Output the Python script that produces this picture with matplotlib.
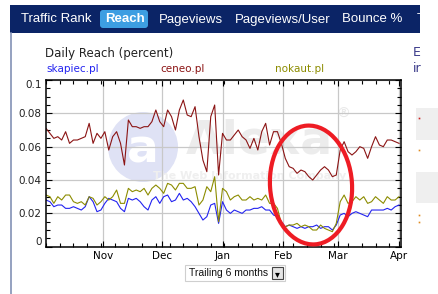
#!/usr/bin/env python3
"""Alexa style daily reach chart: skapiec.pl vs ceneo.pl vs nokaut.pl."""

import matplotlib
matplotlib.use("Agg")
import matplotlib.dates as mdates
import matplotlib.pyplot as plt
import numpy as np
import pandas as pd
from matplotlib.patches import Circle, Ellipse, FancyBboxPatch, Rectangle

# every second day, 3 Oct 2009 .. 1 Apr 2010
dates = pd.date_range("2009-10-03", "2010-04-01", freq="2D")

ceneo = [
    0.071, 0.068, 0.065, 0.066, 0.064, 0.069, 0.062, 0.064, 0.064, 0.065,
    0.066, 0.074, 0.062, 0.068, 0.065, 0.069, 0.058, 0.066, 0.069, 0.062,
    0.049, 0.076, 0.072, 0.072, 0.071, 0.072, 0.072, 0.075, 0.082, 0.075,
    0.072, 0.082, 0.078, 0.070, 0.082, 0.088, 0.079, 0.078, 0.084, 0.066,
    0.052, 0.045, 0.078, 0.085, 0.043, 0.068, 0.064, 0.064, 0.067, 0.070,
    0.066, 0.064, 0.059, 0.065, 0.058, 0.069, 0.074, 0.061, 0.069, 0.069,
    0.062, 0.053, 0.048, 0.047, 0.044, 0.046, 0.045, 0.042, 0.040, 0.043,
    0.046, 0.048, 0.046, 0.042, 0.043, 0.058, 0.063, 0.057, 0.055, 0.057,
    0.060, 0.059, 0.053, 0.060, 0.066, 0.061, 0.060, 0.064, 0.064, 0.063,
    0.062,
]
nokaut = [
    0.031, 0.030, 0.026, 0.030, 0.028, 0.031, 0.031, 0.027, 0.026, 0.027,
    0.025, 0.030, 0.029, 0.025, 0.027, 0.030, 0.028, 0.030, 0.034, 0.026,
    0.026, 0.035, 0.033, 0.034, 0.033, 0.035, 0.031, 0.035, 0.037, 0.035,
    0.032, 0.038, 0.037, 0.034, 0.038, 0.038, 0.035, 0.035, 0.036, 0.025,
    0.028, 0.036, 0.033, 0.042, 0.015, 0.035, 0.033, 0.028, 0.030, 0.031,
    0.028, 0.028, 0.030, 0.028, 0.029, 0.028, 0.031, 0.026, 0.026, 0.023,
    0.014, 0.012, 0.013, 0.013, 0.014, 0.012, 0.013, 0.012, 0.010, 0.010,
    0.013, 0.011, 0.010, 0.009, 0.014, 0.027, 0.031, 0.026, 0.027, 0.030,
    0.028, 0.030, 0.026, 0.027, 0.030, 0.028, 0.026, 0.030, 0.028, 0.028,
    0.030,
]
skapiec = [
    0.028, 0.027, 0.024, 0.025, 0.025, 0.023, 0.023, 0.024, 0.023, 0.022,
    0.024, 0.030, 0.027, 0.021, 0.022, 0.026, 0.029, 0.028, 0.027, 0.023,
    0.021, 0.029, 0.028, 0.029, 0.027, 0.024, 0.022, 0.028, 0.030, 0.026,
    0.030, 0.031, 0.027, 0.028, 0.032, 0.028, 0.029, 0.027, 0.024, 0.020,
    0.016, 0.018, 0.025, 0.026, 0.014, 0.027, 0.022, 0.020, 0.022, 0.021,
    0.020, 0.022, 0.022, 0.023, 0.023, 0.024, 0.022, 0.022, 0.019, 0.018,
    0.015, 0.012, 0.013, 0.012, 0.011, 0.012, 0.011, 0.012, 0.012, 0.013,
    0.011, 0.012, 0.012, 0.010, 0.013, 0.019, 0.020, 0.018, 0.020, 0.021,
    0.020, 0.019, 0.018, 0.022, 0.022, 0.022, 0.022, 0.023, 0.022, 0.024,
    0.025,
]

sites = ["skapiec.pl", "ceneo.pl", "nokaut.pl"]
site_colors = ["#2323f0", "#8b1414", "#8c8c00"]
tabs = ["Traffic Rank", "Reach", "Pageviews", "Pageviews/User", "Bounce %", "T"]
tab_x = [21, 105, 159, 235, 342, 417]
y_ticks = [0, 0.02, 0.04, 0.06, 0.08, 0.1]
y_labels = ["0", "0.02", "0.04", "0.06", "0.08", "0.1"]

W, H = 438, 294
fig = plt.figure(figsize=(W / 100, H / 100), dpi=100)

# page background in pixel coordinates
bg = fig.add_axes([0, 0, 1, 1], zorder=0)
bg.set_xlim(0, W)
bg.set_ylim(H, 0)
bg.axis("off")

bg.add_patch(Rectangle((10, 5), 410, 28, color="#0b2466", lw=0))
bg.add_patch(FancyBboxPatch((100, 10), 48, 18, boxstyle="round,pad=0,rounding_size=3",
                            color="#3d9ee2", lw=0))
for label, x in zip(tabs, tab_x):
    bg.text(x, 19.5, label, color="white", fontsize=9.5, family="Liberation Sans",
            fontweight="bold" if label == "Reach" else "normal", va="center", ha="left")
bg.plot([10.5, 10.5], [33, H], color="#8391b5", lw=1.2)

bg.text(45, 53, "Daily Reach (percent)", fontsize=8.5, color="#222222", va="center")
for label, color, x in zip(sites, site_colors, [46, 160, 275]):
    bg.text(x, 69, label, fontsize=7.5, color=color, va="center")
bg.text(413, 53, "E", fontsize=9, color="#3b3b8a", va="center")
bg.text(413, 68, "ir", fontsize=9, color="#3b3b8a", va="center")
bg.add_patch(Rectangle((416, 108), 22, 32, color="#efefef", lw=0))
bg.add_patch(Rectangle((416, 172), 22, 31, color="#efefef", lw=0))
for yy, cc in [(118, "#cc2222"), (150, "#e08a20"), (215, "#e08a20"), (222, "#e08a20")]:
    bg.plot(419, yy, "s", ms=1.2, color=cc, mew=0)

# alexa watermark
bg.add_patch(Circle((143, 147), 35, color="#dfe2f5", lw=0))
bg.text(143, 150, "a", fontsize=34, color="white", fontweight="bold", ha="center", va="center")
bg.text(259, 141, "Alexa", fontsize=34, color="#ececec", fontweight="bold", ha="center", va="center")
bg.text(250, 176, "The Web Information Company", fontsize=8, color="#efefef",
        fontweight="bold", ha="center", va="center")
bg.text(343, 114, "®", fontsize=10, color="#e8e8e8", ha="center", va="center")

# trailing dropdown
bg.add_patch(Rectangle((185, 265), 100, 16, facecolor="white", edgecolor="#cfcfcf", lw=0.8))
bg.text(189, 273, "Trailing 6 months", fontsize=7.5, color="#111111", va="center",
        family="Liberation Sans")
bg.add_patch(Rectangle((272, 267), 11, 12, facecolor="#e4e4e4", edgecolor="#444444", lw=0.8))
bg.text(277.5, 274, "▾", fontsize=7, color="black", ha="center", va="center")

# main chart
ax = fig.add_axes([46 / W, 1 - 246.7 / H, 355 / W, 166.7 / H], zorder=1)
ax.set_facecolor("none")
for values, color in zip([skapiec, nokaut, ceneo], [site_colors[0], site_colors[2], site_colors[1]]):
    ax.plot(dates, values, color=color, lw=0.8)

ax.set_ylim(0, 0.1)
ax.set_xlim(pd.Timestamp("2009-10-03"), pd.Timestamp("2010-04-02"))
ax.set_yticks(y_ticks)
ax.set_yticklabels(y_labels)
ax.yaxis.set_minor_locator(matplotlib.ticker.MultipleLocator(0.005))
ax.xaxis.set_major_locator(mdates.MonthLocator())
ax.xaxis.set_major_formatter(mdates.DateFormatter("%b"))
ax.xaxis.set_minor_locator(mdates.WeekdayLocator(byweekday=mdates.SA))
ax.grid(True, which="major", color="#c8c8c8", lw=0.9)
ax.tick_params(which="both", direction="in", top=True, right=True, labelsize=7.5,
               colors="black", width=0.8)
ax.tick_params(which="major", length=4, pad=3)
ax.tick_params(which="minor", length=3)
ax.tick_params(axis="y", labelcolor="#222222")
for s in ax.spines.values():
    s.set_linewidth(1.1)
labels = ax.get_yticklabels()
labels[0].set_verticalalignment("bottom")
labels[-1].set_verticalalignment("top")

# red hand drawn circle around February drop
ov = fig.add_axes([0, 0, 1, 1], zorder=2)
ov.set_xlim(0, W)
ov.set_ylim(H, 0)
ov.axis("off")
ov.add_patch(Ellipse((311, 185), 82, 119, angle=-4, fill=False, edgecolor="#ee1c24", lw=3))

fig.savefig("out.png", dpi=100)
